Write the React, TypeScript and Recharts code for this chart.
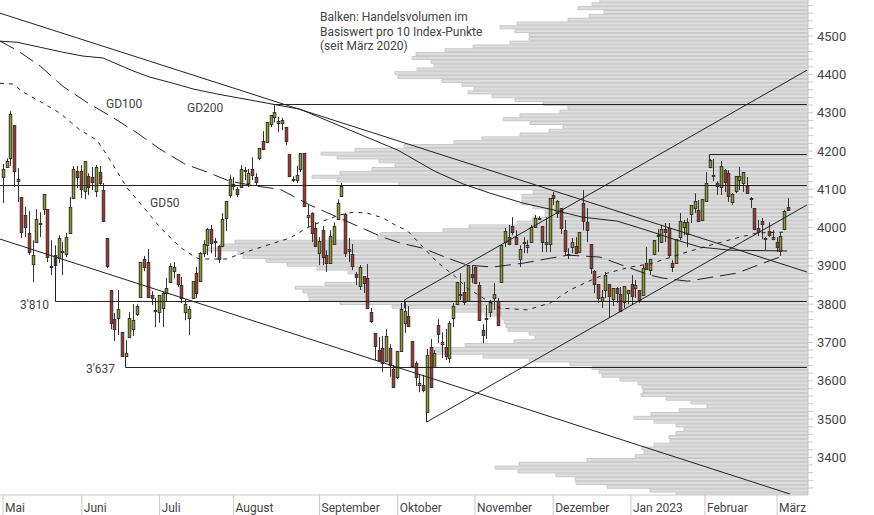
import React from 'react';
import {
    ComposedChart,
    Bar,
    Line,
    XAxis,
    YAxis,
    ReferenceLine,
} from 'recharts';

const FONT = 'Roboto, "Open Sans", sans-serif';
const WIDTH = 874;
const HEIGHT = 515;
const PROFILE_MARGIN = { top: 0, right: 66, bottom: 20, left: 0 };
const CHART_MARGIN = { top: 0, right: 0, bottom: 0, left: 0 };
const PRICE_DOMAIN: [number, number] = [3301.6, 4594.4];
const DAY_DOMAIN: [number, number] = [-0.89, 216.3];

// Daily index values, one entry per trading day
const highs = [
    4166, 4181, 4304, 4268, 4155, 4080, 4054, 4043, 3967, 4048,
    4040, 4087, 4048, 3967, 3954, 3980, 3962, 3986, 4080, 4161,
    4161, 4163, 4174, 4142, 4158, 4163, 4161, 4116, 3973, 3837,
    3777, 3837, 3727, 3706, 3779, 3800, 3800, 3910, 3926, 3944,
    3834, 3816, 3824, 3832, 3868, 3907, 3910, 3879, 3871, 3813,
    3795, 3860, 3897, 3936, 3967, 3999, 4007, 3973, 3954, 4038,
    4069, 4137, 4132, 4106, 4163, 4158, 4153, 4184, 4142, 4208,
    4252, 4275, 4294, 4320, 4289, 4286, 4262, 4192, 4134, 4161,
    4195, 4195, 4059, 4040, 4014, 3975, 4004, 3941, 3993, 4014,
    4074, 4116, 4038, 3973, 3957, 3884, 3902, 3873, 3905, 3790,
    3725, 3714, 3717, 3735, 3696, 3641, 3678, 3803, 3805, 3795,
    3704, 3651, 3615, 3615, 3683, 3709, 3680, 3761, 3727, 3735,
    3756, 3803, 3858, 3881, 3858, 3902, 3902, 3899, 3858, 3748,
    3798, 3811, 3855, 3816, 3954, 3999, 4007, 4027, 3993, 3954,
    3975, 3967, 4007, 4033, 4030, 4004, 4027, 4077, 4093, 4072,
    4051, 4020, 3946, 3973, 3975, 3988, 4098, 4051, 3957, 3889,
    3852, 3837, 3884, 3852, 3842, 3845, 3845, 3847, 3837, 3876,
    3863, 3837, 3902, 3949, 3918, 3967, 3996, 4007, 4012, 4012,
    3915, 3970, 4038, 4020, 4025, 4059, 4090, 4072, 4074, 4145,
    4179, 4179, 4121, 4174, 4153, 4150, 4090, 4134, 4158, 4145,
    4132, 4080, 4051, 4020, 4025, 3975, 4014, 3993, 3975, 3988, 4046, 4077,
];
const lows = [
    4064, 4158, 4161, 4106, 4067, 3973, 3975, 3928, 3858, 3962,
    3975, 4033, 3910, 3876, 3902, 3907, 3876, 3923, 3986, 4077,
    4103, 4077, 4074, 4085, 4098, 4080, 4111, 4014, 3894, 3735,
    3704, 3719, 3664, 3662, 3714, 3717, 3769, 3819, 3886, 3819,
    3798, 3740, 3751, 3740, 3808, 3858, 3868, 3845, 3803, 3758,
    3719, 3816, 3816, 3860, 3923, 3928, 3933, 3923, 3907, 3949,
    3991, 4077, 4098, 4080, 4106, 4124, 4106, 4124, 4111, 4176,
    4202, 4223, 4262, 4275, 4249, 4255, 4215, 4134, 4119, 4116,
    4145, 4056, 4001, 3962, 3952, 3902, 3902, 3884, 3907, 3957,
    4020, 4082, 3923, 3910, 3889, 3850, 3837, 3829, 3787, 3751,
    3654, 3654, 3623, 3649, 3610, 3584, 3604, 3678, 3725, 3740,
    3638, 3586, 3570, 3570, 3518, 3581, 3636, 3698, 3659, 3654,
    3646, 3740, 3798, 3811, 3798, 3808, 3855, 3855, 3756, 3698,
    3709, 3766, 3785, 3743, 3858, 3949, 3954, 3980, 3954, 3897,
    3933, 3933, 3962, 3999, 4020, 3936, 3936, 3936, 4059, 4025,
    3983, 3928, 3918, 3933, 3931, 3936, 3993, 3962, 3879, 3829,
    3803, 3790, 3816, 3764, 3795, 3803, 3779, 3790, 3800, 3798,
    3816, 3803, 3824, 3889, 3876, 3928, 3936, 3960, 3962, 3923,
    3884, 3907, 3967, 3980, 3949, 4012, 4038, 4014, 4020, 4067,
    4155, 4121, 4085, 4085, 4093, 4067, 4059, 4090, 4098, 4093,
    4090, 4051, 3993, 3978, 3970, 3941, 3975, 3967, 3936, 3926, 3993, 4046,
];
const opens = [
    4132, 4158, 4181, 4268, 4127, 4080, 4033, 3986, 3905, 3962,
    4012, 4048, 4048, 3899, 3928, 3920, 3939, 3931, 3986, 4077,
    4147, 4147, 4095, 4134, 4132, 4095, 4145, 4098, 3973, 3837,
    3761, 3764, 3727, 3664, 3714, 3735, 3774, 3819, 3918, 3910,
    3824, 3785, 3779, 3790, 3829, 3858, 3886, 3879, 3850, 3779,
    3764, 3816, 3881, 3860, 3933, 3954, 3996, 3965, 3952, 3952,
    4025, 4085, 4114, 4100, 4106, 4150, 4116, 4153, 4132, 4181,
    4226, 4223, 4270, 4289, 4278, 4273, 4262, 4192, 4127, 4124,
    4153, 4195, 4033, 4038, 3999, 3933, 3993, 3928, 3907, 3957,
    4022, 4082, 4035, 3944, 3931, 3879, 3847, 3873, 3868, 3779,
    3725, 3680, 3685, 3651, 3685, 3631, 3610, 3678, 3751, 3769,
    3704, 3646, 3594, 3589, 3518, 3688, 3636, 3745, 3701, 3688,
    3659, 3764, 3800, 3826, 3832, 3808, 3879, 3897, 3850, 3732,
    3764, 3779, 3816, 3808, 3858, 3962, 3975, 4004, 3975, 3918,
    3962, 3954, 3962, 4001, 4025, 4004, 3962, 3957, 4085, 4038,
    4051, 3993, 3931, 3949, 3952, 3936, 4064, 4014, 3957, 3886,
    3852, 3808, 3837, 3852, 3813, 3842, 3826, 3805, 3829, 3852,
    3842, 3837, 3824, 3907, 3889, 3931, 3980, 3962, 3996, 3999,
    3907, 3907, 3975, 4001, 3983, 4035, 4051, 4046, 4020, 4069,
    4158, 4137, 4116, 4106, 4150, 4142, 4067, 4095, 4124, 4116,
    4108, 4077, 4051, 3999, 4017, 3973, 3991, 3975, 3962, 3939, 3996, 4054,
];
const closes = [
    4153, 4174, 4296, 4147, 4121, 3988, 4001, 3936, 3928, 4022,
    4009, 4087, 3923, 3897, 3902, 3973, 3936, 3975, 4054, 4153,
    4132, 4100, 4174, 4106, 4119, 4158, 4116, 4017, 3899, 3751,
    3735, 3787, 3664, 3672, 3764, 3758, 3795, 3910, 3897, 3819,
    3816, 3782, 3824, 3829, 3842, 3899, 3897, 3852, 3816, 3800,
    3787, 3860, 3829, 3933, 3957, 3996, 3960, 3962, 3918, 4022,
    4069, 4127, 4108, 4087, 4153, 4147, 4142, 4137, 4119, 4208,
    4205, 4275, 4294, 4302, 4273, 4281, 4226, 4134, 4124, 4137,
    4195, 4056, 4027, 3986, 3952, 3965, 3923, 3907, 3978, 4004,
    4064, 4108, 3933, 3939, 3899, 3871, 3897, 3855, 3790, 3756,
    3691, 3654, 3646, 3717, 3641, 3584, 3678, 3787, 3782, 3743,
    3638, 3610, 3589, 3576, 3667, 3584, 3672, 3722, 3696, 3664,
    3751, 3795, 3858, 3824, 3805, 3902, 3871, 3855, 3758, 3719,
    3761, 3805, 3826, 3745, 3954, 3991, 3957, 3988, 3957, 3944,
    3960, 3949, 4001, 4025, 4022, 3962, 3957, 4077, 4077, 4069,
    3999, 3939, 3928, 3962, 3933, 3988, 4017, 3993, 3894, 3852,
    3816, 3819, 3876, 3821, 3842, 3829, 3782, 3847, 3837, 3821,
    3850, 3808, 3894, 3892, 3918, 3967, 3978, 3996, 3988, 3928,
    3897, 3970, 4017, 4014, 4014, 4059, 4069, 4017, 4074, 4116,
    4176, 4134, 4108, 4161, 4119, 4082, 4087, 4134, 4134, 4145,
    4090, 4074, 3996, 3988, 4009, 3970, 3980, 3970, 3949, 3978, 4043, 4046,
];

// Traded volume per 10 index points, from the top of the scale downwards
const TOP_LEVEL = 4592;
const volumes = [
    208, 216, 230, 204, 219, 240, 291, 308, 293, 279,
    279, 298, 335, 363, 392, 396, 377, 374, 391, 413,
    410, 366, 346, 334, 340, 316, 293, 265, 240, 248,
    288, 305, 278, 245, 259, 288, 326, 354, 404, 453,
    487, 471, 429, 413, 436, 468, 496, 471, 409, 329,
    275, 286, 286, 286, 275, 263, 263, 276, 291, 339,
    365, 428, 430, 573, 588, 600, 570, 565, 542, 521,
    491, 460, 440, 440, 483, 513, 505, 500, 499, 468,
    416, 355, 323, 306, 304, 302, 300, 279, 273, 294,
    343, 375, 378, 325, 279, 238, 216, 209, 206, 188,
    170, 166, 165, 167, 142, 117, 101, 129, 157, 174,
    154, 132, 124, 132, 139, 138, 154, 166, 164, 173,
    221, 289, 313, 290, 252, 233, 232, 201, 158, 132,
];

// Moving averages as [day, index value]
const gd200 = [
    [-0.9, 4487], [3.7, 4484], [9.9, 4471], [16, 4458], [21.4, 4448], [26.8, 4443], [34.9, 4409],
    [39.4, 4393], [45.6, 4377], [51, 4362], [57.4, 4349], [63.6, 4338], [70.9, 4325], [79.8, 4309],
    [106.1, 4202], [116, 4147], [123.6, 4114], [130.8, 4090], [139.7, 4064], [147, 4048],
    [155.8, 4027], [165, 4017], [173, 3993], [181.1, 3967], [187.3, 3949], [195.4, 3941], [210.7, 3939],
];
const gd100 = [
    [-0.9, 4487], [3.7, 4463], [9.9, 4422], [16, 4369], [22.8, 4325], [29.2, 4289], [36, 4247],
    [42.1, 4205], [48.8, 4166], [54.8, 4145], [60.9, 4121], [68.2, 4108], [74.4, 4100], [82.4, 4059],
    [87.3, 4038], [95.9, 4001], [102, 3975], [106.6, 3960], [112.8, 3946], [119.5, 3920], [124.7, 3902],
    [131.6, 3897], [139.7, 3907], [147, 3920], [151.8, 3928], [160.4, 3923], [167.7, 3897], [173.8, 3876],
    [177.3, 3868], [184, 3860], [190.8, 3871], [197.2, 3881], [204.2, 3907], [210.1, 3928],
];
const gd50 = [
    [-0.9, 4377], [2.6, 4375], [5.3, 4354], [10.7, 4325], [15.2, 4299], [20.6, 4255], [25.2, 4228],
    [27.9, 4189], [33.3, 4103], [37.6, 4054], [42.1, 4001], [47.5, 3949], [51.5, 3923], [52.9, 3918],
    [60.1, 3918], [63.6, 3931], [70.9, 3954], [77.1, 3973], [81.6, 3999], [85.1, 4014], [90.5, 4033],
    [94, 4040], [97.8, 4038], [102.1, 4025], [105.8, 4004], [108.5, 3993], [112.8, 3949], [116.6, 3910],
    [122, 3868], [124.7, 3842], [130.8, 3805], [133.5, 3790], [140.8, 3785], [147, 3803], [152.3, 3837],
    [156.9, 3858], [162.3, 3881], [168.5, 3897], [173.8, 3905], [182.7, 3933], [190, 3954], [197.2, 3973],
    [202.6, 3986], [209.6, 3988],
];

// Trend, support and resistance lines as [day, value] pairs
const trendLines = [
    [[-0.89, 4560], [216, 3884]],
    [[-0.89, 3970], [211.5, 3304]],
    [[113.75, 3492], [216, 4059]],
    [[107.84, 3811], [216, 4411]],
    [[107.84, 3811], [107.84, 3790]],
    [[113.75, 3518], [113.75, 3492]],
    [[72.6, 4321.5], [216, 4321.5]],
    [[-0.89, 4109.9], [216, 4109.9]],
    [[14.03, 3920], [14.03, 3807]],
    [[14.03, 3807], [216, 3807]],
    [[32.84, 3662], [32.84, 3634.6]],
    [[32.84, 3634.6], [216, 3634.6]],
    [[189.8, 4190.9], [189.8, 4176]],
    [[189.8, 4190.9], [216, 4190.9]],
];

const monthLabels = ['Mai', 'Juni', 'Juli', 'August', 'September', 'Oktober', 'November', 'Dezember', 'Jan 2023', 'Februar', 'März'];
const monthStarts = [-0.08, 21.1, 42, 61.9, 85, 106, 126.8, 147.8, 168.7, 188.6, 208];

const priceTicks = Array.from({ length: 64 }, (_, i) => 3320 + i * 20);

const candles = highs.map((high, i) => ({
    day: i,
    high,
    low: lows[i],
    open: opens[i],
    close: closes[i],
}));
const profile = volumes.map((volume, i) => ({ level: TOP_LEVEL - i * 10, volume }));
const toPoints = (rows: number[][]) => rows.map(([day, value]) => ({ day, value }));

const Candle = (props: any) => {
    const { x, y, width, height, payload } = props;
    const { high, low, open, close } = payload;
    const cx = Math.floor(x + width / 2) + 0.5;
    const toY = (p: number) => y + ((high - p) / (high - low)) * height;
    const top = Math.round(toY(Math.max(open, close))) + 0.5;
    const bottom = Math.round(toY(Math.min(open, close))) + 0.5;
    const fill = close > open ? '#8f9f12' : '#b3301f';
    return (
        <g>
            <line x1={cx} x2={cx} y1={y} y2={y + height} stroke="#333" />
            <rect x={cx - 1.25} y={top} width={2.5} height={Math.max(bottom - top, 1)} fill={fill} stroke="#333" />
        </g>
    );
};

const MonthTick = (props: any) => {
    const { x, index } = props;
    return (
        <g>
            <line x1={x} x2={x} y1={495} y2={515} stroke="#c8c8c8" />
            <text x={x + 2} y={512} fontSize={12} fontFamily={FONT} fill="#444">
                {monthLabels[index]}
            </text>
        </g>
    );
};

const notes = [
    { text: 'GD100', left: 106, top: 97 },
    { text: 'GD200', left: 187, top: 101 },
    { text: 'GD50', left: 150, top: 196 },
    { text: "3'810", left: 20, top: 298 },
    { text: "3'637", left: 86, top: 362 },
    { text: 'Balken: Handelsvolumen im', left: 320, top: 10 },
    { text: 'Basiswert pro 10 Index-Punkte', left: 320, top: 24.5 },
    { text: '(seit März 2020)', left: 320, top: 39 },
];

const App: React.FC = () => {
    return (
        <div style={{ position: 'fixed', left: 0, top: 0, width: WIDTH, height: HEIGHT, background: '#fff', overflow: 'hidden' }}>
            {/* Volume profile sits behind the candles */}
            <div style={{ position: 'absolute', left: 0, top: 0 }}>
                <ComposedChart width={WIDTH} height={HEIGHT} layout="vertical" data={profile} margin={PROFILE_MARGIN}>
                    <XAxis type="number" hide reversed domain={[0, 808]} allowDataOverflow />
                    <YAxis type="number" hide reversed dataKey="level" domain={PRICE_DOMAIN} allowDataOverflow />
                    <Bar dataKey="volume" barSize={3} fill="#dedede" stroke="#c8c8c8" isAnimationActive={false} />
                </ComposedChart>
            </div>
            <div style={{ position: 'absolute', left: 0, top: 0 }}>
                <ComposedChart width={WIDTH} height={HEIGHT} data={candles} margin={CHART_MARGIN}>
                    <XAxis
                        type="number"
                        dataKey="day"
                        domain={DAY_DOMAIN}
                        allowDataOverflow
                        ticks={monthStarts}
                        interval={0}
                        height={20}
                        tickLine={false}
                        stroke="#c8c8c8"
                        tick={<MonthTick />}
                    />
                    <YAxis
                        type="number"
                        orientation="right"
                        domain={PRICE_DOMAIN}
                        allowDataOverflow
                        ticks={priceTicks}
                        interval={0}
                        width={66}
                        tickSize={5}
                        tickMargin={4}
                        stroke="#c8c8c8"
                        tick={{ fontSize: 13, fontFamily: FONT, fill: '#444' }}
                        tickFormatter={(v: number) => (v % 100 === 0 ? String(v) : '')}
                    />
                    {trendLines.map(([from, to], i) => (
                        <ReferenceLine
                            key={i}
                            segment={[
                                { x: from[0], y: from[1] },
                                { x: to[0], y: to[1] },
                            ]}
                            stroke="#222"
                            strokeWidth={1}
                        />
                    ))}
                    <Line data={toPoints(gd200)} dataKey="value" dot={false} stroke="#222" strokeWidth={1} isAnimationActive={false} />
                    <Line data={toPoints(gd100)} dataKey="value" dot={false} stroke="#222" strokeWidth={1} strokeDasharray="16 7" isAnimationActive={false} />
                    <Line data={toPoints(gd50)} dataKey="value" dot={false} stroke="#222" strokeWidth={1} strokeDasharray="4 5" isAnimationActive={false} />
                    <Bar
                        dataKey={(d: any) => [d.low, d.high]}
                        barSize={3}
                        isAnimationActive={false}
                        shape={<Candle />}
                    />
                </ComposedChart>
            </div>
            {notes.map((n) => (
                <div
                    key={n.text}
                    style={{ position: 'absolute', left: n.left, top: n.top, fontFamily: FONT, fontSize: 12, lineHeight: '14px', color: '#444', whiteSpace: 'nowrap' }}
                >
                    {n.text}
                </div>
            ))}
        </div>
    );
};

export default App;
